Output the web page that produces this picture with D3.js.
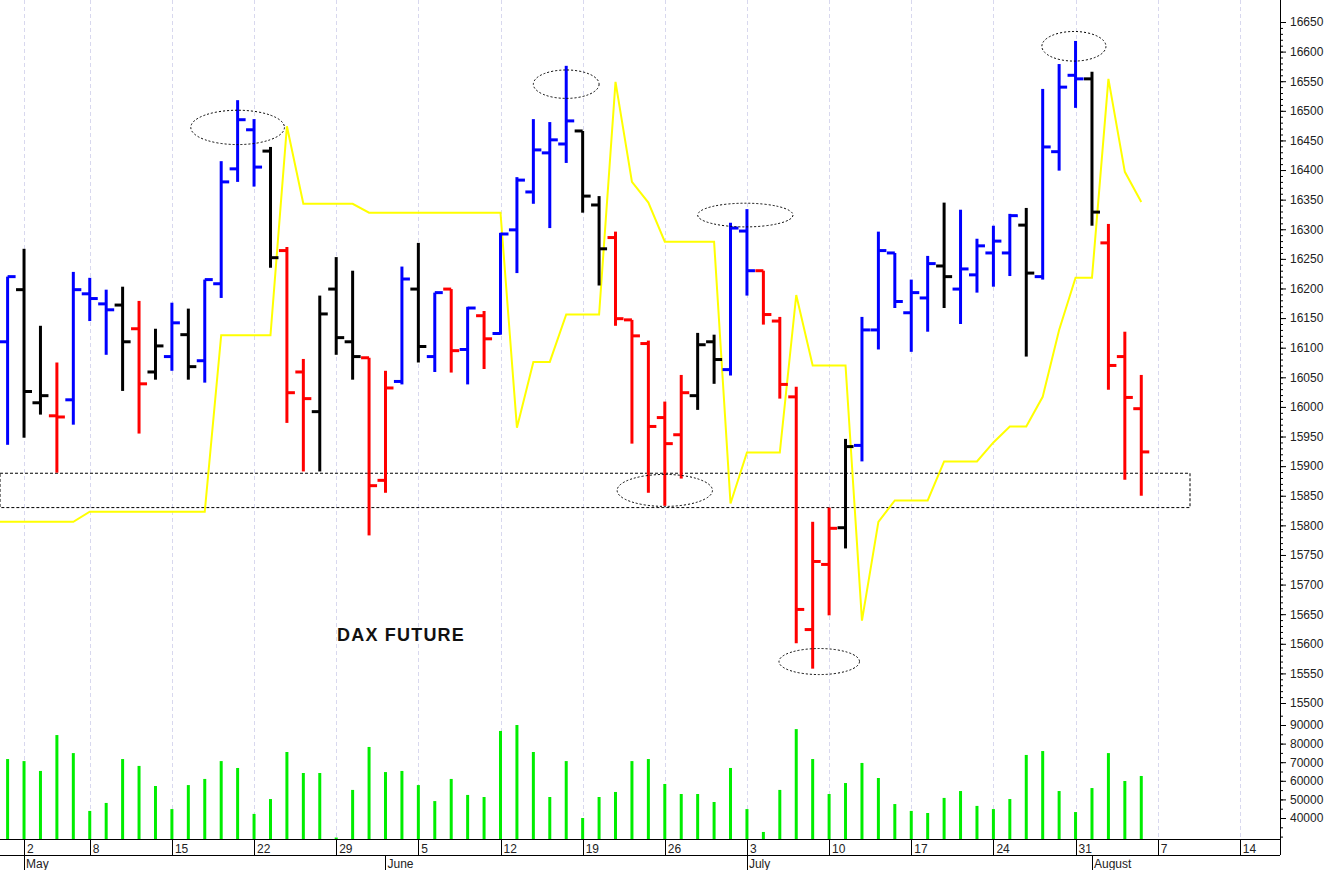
<!DOCTYPE html>
<html>
<head>
<meta charset="utf-8">
<script src="https://cdn.jsdelivr.net/npm/d3@7"></script>
<style>
  body { margin: 0; background: #fff; }
  svg { display: block; font-family: "Liberation Sans", Arial, sans-serif; }
</style>
</head>
<body>
<div id="chart"></div>
<script>
// daily bars, slot 0 = Apr 28
var opens  = [16110,16198,16007,15985,16012,16191,16174,16172,16132,16059,16085,16122,16078,16208,16402,16468,16432,16264,16059,15992,
              16199,16110,16083,15876,16043,16199,16085,16199,16097,16154,16124,16299,16363,16429,16444,16466,16341,16286,16147,16107,
              15982,15953,16019,16110,16063,16297,16230,16145,16017,15624,15734,15796,15935,16130,16260,16159,16184,16238,16199,16223,
              16260,16260,16307,16220,16431,16560,16554,16277,16085,15997];
var highs  = [16220,16267,16137,16075,16228,16218,16198,16203,16179,16132,16176,16166,16215,16415,16518,16486,16439,16270,16081,16188,
              16253,16230,16083,16061,16237,16277,16193,16199,16169,16162,16294,16388,16486,16481,16576,16466,16356,16296,16147,16112,
              16009,16054,16125,16122,16311,16334,16230,16152,16034,15806,15830,15946,16152,16296,16260,16215,16255,16345,16333,16284,
              16306,16326,16336,16537,16579,16618,16566,16309,16127,16054];
var lows   = [15936,15948,15987,15889,15970,16145,16088,16027,15955,16046,16061,16046,16041,16184,16380,16372,16235,15973,15891,15891,
              16088,16046,15783,15855,16038,16075,16059,16058,16038,16064,16122,16226,16343,16302,16412,16328,16205,16137,15938,15855,
              15833,15879,15995,16039,16053,16188,16139,16014,15601,15558,15648,15761,15908,16097,16167,16093,16127,16167,16140,16193,
              16203,16221,16085,16215,16399,16505,16306,16029,15877,15850];
var closes = [16220,16026,16019,15983,16198,16183,16164,16110,16039,16103,16142,16068,16215,16380,16485,16405,16252,16024,16014,16157,
              16117,16085,15867,16032,16216,16102,16193,16095,16167,16115,16292,16383,16434,16451,16483,16356,16267,16149,16120,15967,
              15938,16024,16105,16080,16302,16230,16156,16038,15658,15739,15795,15933,16130,16264,16178,16193,16242,16220,16233,16272,
              16280,16323,16226,16439,16540,16554,16329,16070,16016,15924];
var barColors = "BKKRBBBKRKBKBBBBKRRKKKRRBKBRBRBBBBBKKRRRRRKKBBRRRRRKBBBBBKBBBBKBBBKRRR";
var volumes = [71700,70600,65300,84600,74900,43800,48100,71700,68000,57200,44800,57700,61000,70600,66900,42200,50200,75500,64200,64200,
               29500,55100,78200,64700,65300,57700,49100,61000,52400,51300,86800,90000,75500,51300,70600,40000,51300,54000,70600,71700,
               58300,52900,52900,48600,66900,44800,32500,55100,87800,71700,52900,58800,69600,61500,47500,43800,42700,50800,54500,46500,
               44800,50200,73900,76000,54500,43200,56100,74900,59900,62600];
// yellow line, slot -1 .. 69
var yellowLine = [15806,15806,15806,15806,15806,15806,
                  15823,15823,15823,15823,15823,15823,15823,15823,
                  16121,16121,16121,16121,16474,16343,16343,16343,16343,
                  16328,16328,16328,16328,16328,16328,16328,16328,16328,
                  15965,16076,16076,16156,16156,16156,16549,16380,16345,
                  16279,16279,16279,16279,15837,15923,15923,15923,16189,16070,16070,16070,
                  15639,15806,15842,15842,15842,15908,15908,15908,
                  15940,15967,15967,16017,16130,16218,16218,16554,16397,16346];
var dayTicks = [[1,"2"],[5,"8"],[10,"15"],[15,"22"],[20,"29"],[25,"5"],[30,"12"],[35,"19"],[40,"26"],[45,"3"],[50,"10"],[55,"17"],[60,"24"],[65,"31"],[70,"7"],[75,"14"]];
var monthTicks = [[1,"May"],[23,"June"],[45,"July"],[66,"August"]];
var priceTicks = d3.range(15500, 16651, 50);
var volTicks = [40000,50000,60000,70000,80000,90000];
// annotations: [slot, price, rx(slots), ry(price)]
var ellipses = [[14,16472,2.85,29],[34,16545,2.0,24],[44.9,16324,2.9,20],[40,15859,2.9,27],[49.4,15570,2.45,22],[64.9,16609,1.95,25]];
var band = [15888, 15830];

var W = 1328, H = 870;
var x = d3.scaleLinear().domain([0, 1]).range([7.6, 24.03]);
var y = d3.scaleLinear().domain([15500, 16650]).range([703, 22]);
var yv = d3.scaleLinear().domain([40000, 90000]).range([818, 725]);
var axisX = 1280, baseY = 839;
var colorOf = { B: "#0000ff", R: "#ff0000", K: "#000000" };

var svg = d3.select("#chart").append("svg").attr("width", W).attr("height", H);
svg.append("defs").append("clipPath").attr("id", "plot")
  .append("rect").attr("x", 0).attr("y", 0).attr("width", axisX).attr("height", baseY);

// weekly grid
svg.append("g").selectAll("line").data(dayTicks).enter().append("line")
  .attr("x1", function(d) { return Math.round(x(d[0])) + 0.5; })
  .attr("x2", function(d) { return Math.round(x(d[0])) + 0.5; })
  .attr("y1", 0).attr("y2", baseY)
  .attr("stroke", "#d8d8ee").attr("stroke-dasharray", "4,3");

var plot = svg.append("g").attr("clip-path", "url(#plot)");

// band
plot.append("rect")
  .attr("x", 0).attr("y", y(band[0]))
  .attr("width", 1190).attr("height", y(band[1]) - y(band[0]))
  .attr("fill", "none").attr("stroke", "#000").attr("stroke-width", 1).attr("stroke-dasharray", "3,2");

// yellow line
plot.append("path").datum(yellowLine)
  .attr("fill", "none").attr("stroke", "#ffff00").attr("stroke-width", 2)
  .attr("d", d3.line().x(function(d, i) { return x(i - 1); }).y(function(d) { return y(d); }));

// ohlc bars
var bars = plot.append("g").selectAll("g").data(opens).enter().append("g")
  .attr("stroke", function(d, i) { return colorOf[barColors[i]]; })
  .attr("stroke-width", 3);
bars.append("line")
  .attr("x1", function(d, i) { return x(i); }).attr("x2", function(d, i) { return x(i); })
  .attr("y1", function(d, i) { return y(highs[i]); }).attr("y2", function(d, i) { return y(lows[i]); });
bars.append("line")
  .attr("x1", function(d, i) { return x(i) - 8; }).attr("x2", function(d, i) { return x(i); })
  .attr("y1", function(d) { return y(d); }).attr("y2", function(d) { return y(d); });
bars.append("line")
  .attr("x1", function(d, i) { return x(i); }).attr("x2", function(d, i) { return x(i) + 8; })
  .attr("y1", function(d, i) { return y(closes[i]); }).attr("y2", function(d, i) { return y(closes[i]); });

// volume
plot.append("g").selectAll("line").data(volumes).enter().append("line")
  .attr("x1", function(d, i) { return x(i); }).attr("x2", function(d, i) { return x(i); })
  .attr("y1", baseY).attr("y2", function(d) { return yv(d); })
  .attr("stroke", "#00ee00").attr("stroke-width", 3);

// ellipses
plot.append("g").selectAll("ellipse").data(ellipses).enter().append("ellipse")
  .attr("cx", function(d) { return x(d[0]); })
  .attr("cy", function(d) { return y(d[1]); })
  .attr("rx", function(d) { return x(d[2]) - x(0); })
  .attr("ry", function(d) { return y(0) - y(d[3]); })
  .attr("fill", "none").attr("stroke", "#000").attr("stroke-width", 1).attr("stroke-dasharray", "2,2");

svg.append("text").attr("x", 337).attr("y", 641)
  .attr("font-size", 18).attr("font-weight", "bold").attr("letter-spacing", 1.2).attr("fill", "#111").text("DAX FUTURE");

// right axis
var ra = svg.append("g").attr("transform", "translate(" + axisX + ",0)");
ra.append("line").attr("x1", 0.5).attr("x2", 0.5).attr("y1", 0).attr("y2", 855).attr("stroke", "#000");
ra.append("g").call(d3.axisRight(y).tickValues(priceTicks).tickFormat(d3.format("d")).tickSize(6).tickPadding(4))
  .call(function(g) { g.select(".domain").remove(); });
ra.append("g").call(d3.axisRight(y).tickValues(d3.range(15500, 16660, 10)).tickFormat("").tickSize(3))
  .call(function(g) { g.select(".domain").remove(); });
ra.append("g").call(d3.axisRight(yv).tickValues(volTicks).tickFormat(d3.format("d")).tickSize(6).tickPadding(4))
  .call(function(g) { g.select(".domain").remove(); });
ra.append("g").call(d3.axisRight(yv).tickValues(d3.range(30000, 96000, 5000)).tickFormat("").tickSize(3))
  .call(function(g) { g.select(".domain").remove(); });
ra.selectAll("text").attr("font-size", 12).attr("font-family", "Liberation Sans, Arial, sans-serif").attr("fill", "#222");

// bottom axis
var ba = svg.append("g");
ba.append("line").attr("x1", 0).attr("x2", axisX).attr("y1", baseY + 0.5).attr("y2", baseY + 0.5).attr("stroke", "#000");
ba.append("line").attr("x1", 0).attr("x2", axisX).attr("y1", 855.5).attr("y2", 855.5).attr("stroke", "#000");
var dt = ba.selectAll("g.day").data(dayTicks).enter().append("g").attr("class", "day");
dt.append("line").attr("x1", function(d) { return Math.round(x(d[0])) + 0.5; }).attr("x2", function(d) { return Math.round(x(d[0])) + 0.5; })
  .attr("y1", baseY).attr("y2", 856).attr("stroke", "#000");
dt.append("text").attr("x", function(d) { return x(d[0]) + 3; }).attr("y", 853)
  .attr("font-size", 12).attr("fill", "#222").text(function(d) { return d[1]; });
var mt = ba.selectAll("g.month").data(monthTicks).enter().append("g").attr("class", "month");
mt.append("line").attr("x1", function(d) { return Math.round(x(d[0])) + 0.5; }).attr("x2", function(d) { return Math.round(x(d[0])) + 0.5; })
  .attr("y1", 856).attr("y2", 870).attr("stroke", "#000");
mt.append("text").attr("x", function(d) { return x(d[0]) + 2; }).attr("y", 868)
  .attr("font-size", 12).attr("fill", "#222").text(function(d) { return d[1]; });
</script>
</body>
</html>
